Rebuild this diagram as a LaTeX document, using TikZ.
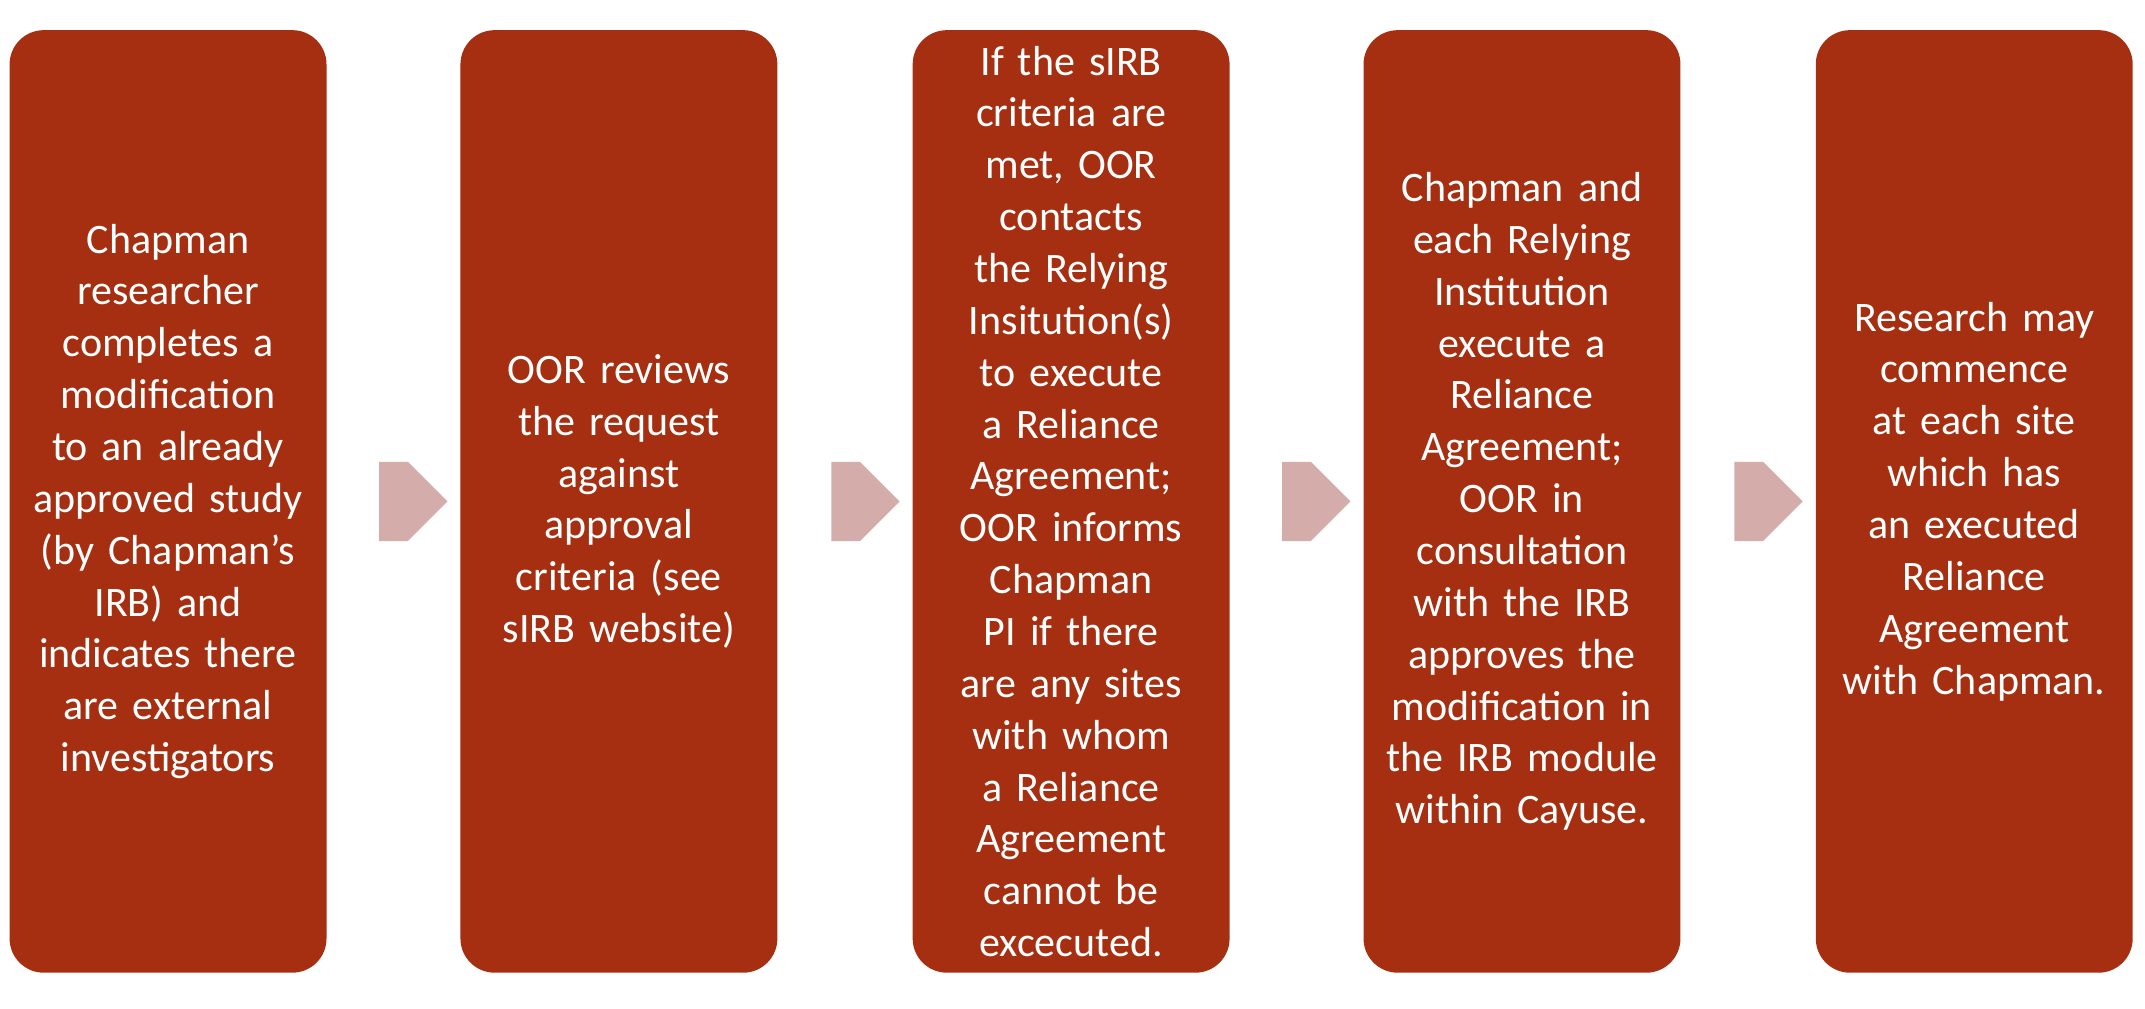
\documentclass[tikz,border=0pt]{standalone}
\usepackage{fontspec}
\setmainfont{Carlito}
\usetikzlibrary{shapes.arrows}
\definecolor{boxc}{HTML}{A52F10}
\definecolor{arrc}{HTML}{D4ADAB}
\begin{document}
\begin{tikzpicture}[x=0.02cm,y=-0.02cm,
 box/.style={fill=boxc,rounded corners=0.5cm,minimum width=4.64cm,minimum height=13.8cm,text=white,align=center,text width=4.1cm,font=\fontsize{17.5}{21.6}\selectfont,inner sep=0pt},
 arr/.style={single arrow,fill=arrc,minimum width=1.16cm,single arrow head extend=0cm,minimum height=1.0cm,inner sep=0pt,single arrow tip angle=90}]
\useasboundingbox (0,0) rectangle (1570,738);
\node[box] (b1) at (123,367) {Chapman researcher completes a modification to an already approved study (by Chapman's IRB) and indicates there are external investigators};
\node[box] (b2) at (453,367) {OOR reviews the request against approval criteria (see sIRB website)};
\node[box] (b3) at (784,367) {If the sIRB criteria are met, OOR contacts the Relying Insitution(s) to execute a Reliance Agreement; OOR informs Chapman PI if there are any sites with whom a Reliance Agreement cannot be excecuted.};
\node[box] (b4) at (1114,367) {Chapman and each Relying Institution execute a Reliance Agreement; OOR in consultation with the IRB approves the modification in the IRB module within Cayuse.};
\node[box] (b5) at (1445,367) {Research may commence at each site which has an executed Reliance Agreement with Chapman.};
\node[arr] (a1) at (288,367) {};
\node[arr] (a2) at (619,367) {};
\node[arr] (a3) at (949,367) {};
\node[arr] (a4) at (1280,367) {};
\end{tikzpicture}
\end{document}
